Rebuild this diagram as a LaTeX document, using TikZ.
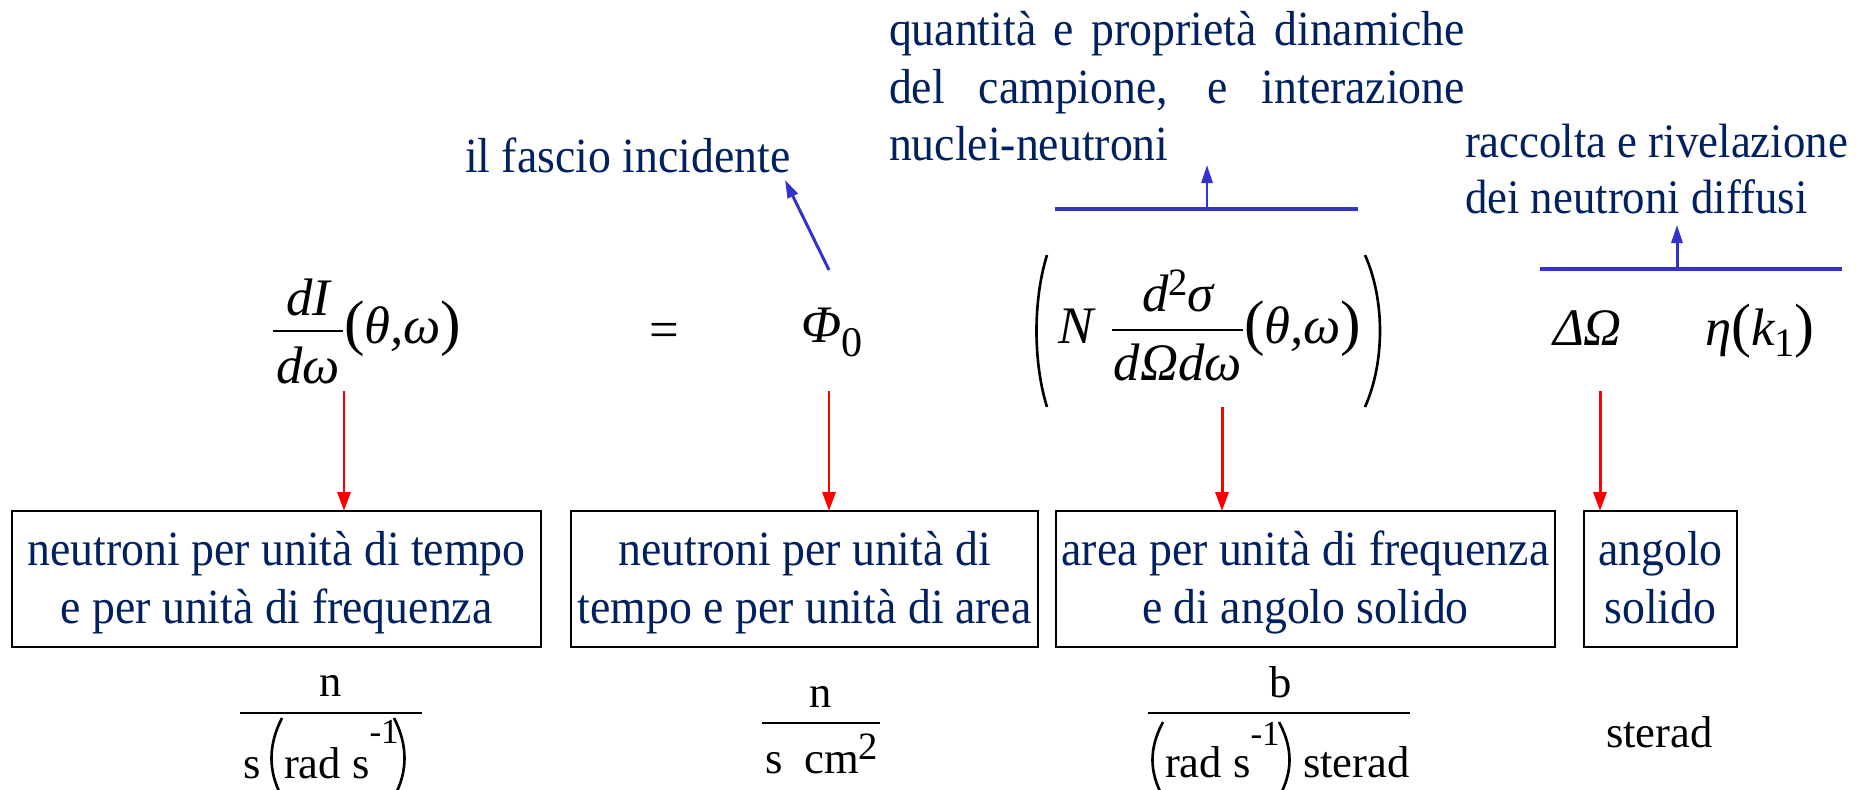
\documentclass[tikz,border=0pt]{standalone}
\usepackage{fontspec}
\setmainfont{Liberation Serif}
\newfontfamily\gfont{Liberation Serif}[FakeStretch=0.93]
\usetikzlibrary{arrows.meta}
\definecolor{navy}{RGB}{0,32,96}
\definecolor{lblue}{RGB}{51,51,204}
\newcommand{\pz}[2]{{\upshape\fontsize{#1}{#1}\selectfont #2}}
\begin{document}
\begin{tikzpicture}[x=0.1mm,y=-0.1mm,
  every node/.style={inner sep=0pt, outer sep=0pt},
  lbl/.style={font=\gfont\fontsize{14}{16.5}\selectfont, text=navy},
  lblr/.style={font=\gfont\fontsize{13.7}{16.5}\selectfont, text=navy},
  mth/.style={font=\fontsize{15}{15}\selectfont\itshape},
  unitxt/.style={font=\fontsize{12.7}{12.7}\selectfont},
  descbox/.style={draw=black, line width=0.65pt, minimum height=13.6mm},
  fracbar/.style={line width=0.55pt},
  paren/.style={line width=0.75pt},
  redarr/.style={draw=red, line width=0.85pt, -{Triangle[length=1.9mm,width=1.3mm]}},
  bluearr/.style={draw=lblue, line width=0.85pt, -{Triangle[length=1.8mm,width=1.1mm]}},
  blueline/.style={draw=lblue, line width=1.2pt}
]
\useasboundingbox (0,0) rectangle (1856,790);

% ---------- top annotations ----------
\node[lbl, anchor=base west] (fascio) at (465,172) {il fascio incidente};
\node[lbl, anchor=base west] (q1) at (889,45) {\makebox[57.6mm][s]{quantità e proprietà dinamiche}};
\node[lbl, anchor=base west] (q2) at (889,103) {\makebox[57.6mm][s]{del campione, e interazione}};
\node[lbl, anchor=base west] (q3) at (889,160) {nuclei-neutroni};
\node[lblr, anchor=base west] (r1) at (1465,157) {raccolta e rivelazione};
\node[lblr, anchor=base west] (r2) at (1465,213) {dei neutroni diffusi};

% blue indicators
\coordinate (a0) at (829,270);
\coordinate (a1) at (785,180);
\draw[bluearr] (a0) -- (a1);
\draw[blueline] (1055,209) -- (1358,209);
\coordinate (bq) at (1207,209);
\coordinate (bqt) at (1207,165);
\draw[bluearr] (bq) -- (bqt);
\draw[blueline] (1540,269) -- (1842,269);
\coordinate (br) at (1677,269);
\coordinate (brt) at (1677,225);
\draw[bluearr] (br) -- (brt);

% ---------- formula ----------
\node[mth, anchor=base] (f1n) at (308,315) {dI};
\draw[fracbar] (273,331) -- (343,331);
\node[mth, anchor=base] (f1d) at (308,383) {dω};
\node[mth, anchor=base west] (f1a) at (344,343) {\pz{17.5}{(}θ,ω\pz{17.5}{)}};

\node[mth, anchor=base] (eq) at (664,347) {\upshape =};

\node[mth, anchor=base west] (phi) at (801,342) {Φ\raisebox{-1.4mm}{\pz{12}{0}}};

\draw[paren] (1047,255) .. controls (1033,300) and (1033,362) .. (1047,407);
\node[mth, anchor=base west] (N) at (1058,343) {N};
\node[mth, anchor=base] (f3n) at (1178,311) {d\raisebox{1.6mm}{\pz{11}{2}}σ};
\draw[fracbar] (1112,330) -- (1243,330);
\node[mth, anchor=base] (f3d) at (1178,380) {dΩdω};
\node[mth, anchor=base west] (f3a) at (1244,343) {\pz{17.5}{(}θ,ω\pz{17.5}{)}};
\draw[paren] (1365,255) .. controls (1385,300) and (1385,362) .. (1365,407);

\node[mth, anchor=base west] (dOm) at (1553,345) {ΔΩ};
\node[mth, anchor=base west] (eta) at (1705,345) {η\pz{17}{(}k\raisebox{-1.1mm}{\pz{11.5}{1}}\pz{17}{)}};

% ---------- boxes ----------
\node[descbox, minimum width=52.9mm] (b1) at (276.5,579) {};
\node[descbox, minimum width=46.7mm] (b2) at (804.5,579) {};
\node[descbox, minimum width=49.9mm] (b3) at (1305.5,579) {};
\node[descbox, minimum width=15.3mm] (b4) at (1660.5,579) {};

\node[lbl, anchor=base] (t1a) at (276.5,565) {neutroni per unità di tempo};
\node[lbl, anchor=base] (t1b) at (276.5,623) {e per unità di frequenza};
\node[lbl, anchor=base] (t2a) at (804.5,565) {neutroni per unità di};
\node[lbl, anchor=base] (t2b) at (804.5,623) {tempo e per unità di area};
\node[lbl, anchor=base] (t3a) at (1305.5,565) {area per unità di frequenza};
\node[lbl, anchor=base] (t3b) at (1305.5,623) {e di angolo solido};
\node[lbl, anchor=base] (t4a) at (1660.5,565) {angolo};
\node[lbl, anchor=base] (t4b) at (1660.5,623) {solido};

% red arrows
\coordinate (s1) at (344,391);
\coordinate (s2) at (829,391);
\coordinate (s3) at (1222,407);
\coordinate (s4) at (1600,391);
\draw[redarr] (s1) -- (s1 |- b1.north);
\draw[redarr] (s2) -- (s2 |- b2.north);
\draw[redarr] (s3) -- (s3 |- b3.north);
\draw[redarr] (s4) -- (s4 |- b4.north);

% ---------- units ----------
\node[unitxt, anchor=base] (u1n) at (331,696) {n};
\draw[fracbar] (240,713) -- (422,713);
\node[unitxt, anchor=base west] (u1s) at (243,778) {s};
\draw[paren] (282,718) .. controls (268,745) and (268,772) .. (282,797);
\node[unitxt, anchor=base west] (u1r) at (284,778) {rad s\raisebox{3.5mm}{\pz{10}{-1}}};
\draw[paren] (394,718) .. controls (408,745) and (408,772) .. (394,797);

\node[unitxt, anchor=base] (u2n) at (821,707) {n};
\draw[fracbar] (762,723) -- (880,723);
\node[unitxt, anchor=base west] (u2d) at (765,773) {s\hspace{2.2mm}cm\raisebox{1.4mm}{\pz{11}{2}}};

\node[unitxt, anchor=base] (u3n) at (1281,697) {b};
\draw[fracbar] (1148,713) -- (1410,713);
\draw[paren] (1163,722) .. controls (1149,748) and (1149,772) .. (1163,797);
\node[unitxt, anchor=base west] (u3r) at (1165,777) {rad s\raisebox{3.2mm}{\pz{10}{-1}}};
\draw[paren] (1279,722) .. controls (1293,748) and (1293,772) .. (1279,797);
\node[unitxt, anchor=base west] (u3s) at (1303,777) {sterad};

\node[unitxt, anchor=base west] (u4) at (1606,747) {sterad};
\end{tikzpicture}
\end{document}
